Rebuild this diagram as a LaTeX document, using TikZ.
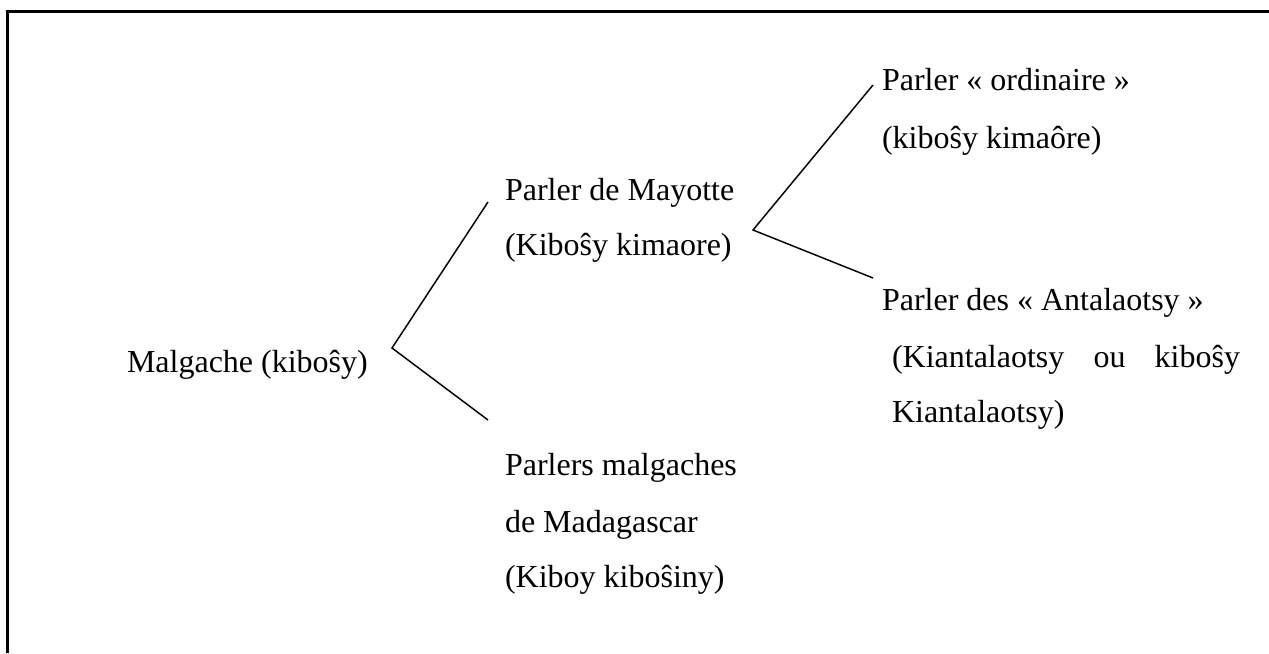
\documentclass[tikz,border=0pt]{standalone}
\usepackage{fontspec}
\setmainfont{Liberation Serif}
\begin{document}
\begin{tikzpicture}[x=0.75pt,y=-0.75pt,
  lbl/.style={anchor=base west,inner sep=0pt,outer sep=0pt,font=\fontsize{24}{29}\selectfont},
  branch/.style={line width=1.1pt,black},
  frame/.style={line width=1.6pt,black}]
\useasboundingbox (0,0) rectangle (1269,653);
\draw[frame] (7.5,653) -- (7.5,11.5) -- (1269,11.5);
% text
\node[lbl] (malg) at (127,372) {Malgache (kiboŝy)};
\node[lbl] (may1) at (505,200) {Parler de Mayotte};
\node[lbl] (may2) at (505,255) {(Kiboŝy kimaore)};
\node[lbl] (mad1) at (505,475) {Parlers malgaches};
\node[lbl] (mad2) at (505,532) {de Madagascar};
\node[lbl] (mad3) at (505,587) {(Kiboy kiboŝiny)};
\node[lbl] (ord1) at (882,90) {Parler « ordinaire »};
\node[lbl] (ord2) at (882,148) {(kiboŝy kimaôre)};
\node[lbl] (ant1) at (882,310) {Parler des « Antalaotsy »};
\node[lbl] (ant2) at (892,367) {\makebox[261pt][s]{(Kiantalaotsy\hfill ou\hfill kiboŝy}};
\node[lbl] (ant3) at (892,422) {Kiantalaotsy)};
% branch points
\coordinate (v1) at (392,348);
\coordinate (e1a) at (488,202);
\coordinate (e1b) at (488,420);
\coordinate (v2) at (753,230);
\coordinate (e2a) at (873,85);
\coordinate (e2b) at (873,278);
\draw[branch] (e1a) -- (v1) -- (e1b);
\draw[branch] (e2a) -- (v2) -- (e2b);
\end{tikzpicture}
\end{document}
